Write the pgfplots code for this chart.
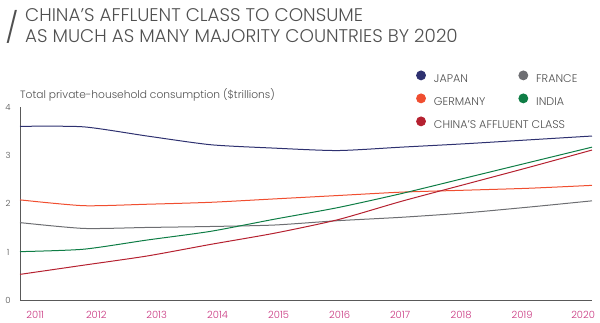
\documentclass[border=0pt]{standalone}
\usepackage{fontspec}
\setmainfont{Poppins}
\IfFontExistsTF{Poppins Light}{\newfontfamily\lightfont{Poppins Light}}{\newcommand\lightfont{}}
\usepackage{pgfplots}
\pgfplotsset{compat=1.18}
\definecolor{japan}{HTML}{2E3170}
\definecolor{germany}{HTML}{F04E30}
\definecolor{france}{HTML}{6D6E72}
\definecolor{india}{HTML}{0E7D45}
\definecolor{china}{HTML}{B52130}
\definecolor{txt}{HTML}{505050}
\definecolor{pinkx}{HTML}{C93680}
\begin{document}
\begin{tikzpicture}
\useasboundingbox (0bp,0bp) rectangle (600bp,323bp);
\node[anchor=base west, text=txt, inner sep=0pt, font=\lightfont\fontsize{18.4}{20}\selectfont] at (25bp,301bp) {CHINA’S AFFLUENT CLASS TO CONSUME};
\node[anchor=base west, text=txt, inner sep=0pt, font=\lightfont\fontsize{18.4}{20}\selectfont] at (25bp,280bp) {AS MUCH AS MANY MAJORITY COUNTRIES BY 2020};
\node[anchor=center, text=txt, inner sep=0pt, font=\lightfont\fontsize{30}{30}\selectfont] at (12bp,296bp) {/};
\node[anchor=base west, text=txt, inner sep=0pt, font=\lightfont\fontsize{10.7}{12}\selectfont] at (20bp,224bp) {Total private-household consumption (\$trillions)};
\begin{axis}[
  at={(20bp,22.5bp)}, anchor=south west,
  scale only axis, width=572bp, height=193.5bp,
  xmin=2011, xmax=2020, ymin=0, ymax=4,
  axis lines=left, axis line style={-, draw=black!65, line width=0.9bp},
  ytick={0,1,2,3,4},
  xtick={2011.24,2012.20,2013.15,2014.11,2015.07,2016.03,2016.98,2017.94,2018.90,2019.86},
  xticklabels={2011,2012,2013,2014,2015,2016,2017,2018,2019,2020},
  major tick length=0pt,
  xticklabel style={text=pinkx, anchor=center, yshift=-14.5bp, font=\lightfont\fontsize{10}{11}\selectfont},
  yticklabel style={text=txt, anchor=center, xshift=-12bp, font=\lightfont\fontsize{8.5}{9}\selectfont},
  /pgf/number format/assume math mode=true,
  clip=false,
  legend columns=2,
  legend cell align=left,
  legend image code/.code={\fill[#1] (0bp,3.8bp) circle (4.4bp);},
  legend style={draw=none, fill=none, at={(0.687,1.2)}, anchor=north west,
    font=\lightfont\fontsize{11.2}{12}\selectfont, text=txt,
    /tikz/every odd column/.append style={column sep=6bp},
    /tikz/every even column/.append style={column sep=31bp}, row sep=7.6bp},
  every axis plot/.append style={line width=1bp, smooth, tension=0.4},
]
\addplot[japan] coordinates {(2011,3.60)(2012,3.59)(2013,3.40)(2014,3.22)(2015,3.15)(2016,3.10)(2017,3.17)(2018,3.24)(2019,3.32)(2020,3.40)};
\addlegendentry{JAPAN}
\addplot[france] coordinates {(2011,1.61)(2012,1.49)(2013,1.51)(2014,1.53)(2015,1.56)(2016,1.65)(2017,1.72)(2018,1.81)(2019,1.93)(2020,2.06)};
\addlegendentry{FRANCE}
\addplot[germany] coordinates {(2011,2.08)(2012,1.96)(2013,1.99)(2014,2.03)(2015,2.10)(2016,2.17)(2017,2.24)(2018,2.28)(2019,2.32)(2020,2.38)};
\addlegendentry{GERMANY}
\addplot[india] coordinates {(2011,1.01)(2012,1.06)(2013,1.25)(2014,1.43)(2015,1.68)(2016,1.92)(2017,2.21)(2018,2.53)(2019,2.85)(2020,3.17)};
\addlegendentry{INDIA}
\addplot[china] coordinates {(2011,0.54)(2012,0.73)(2013,0.92)(2014,1.16)(2015,1.39)(2016,1.67)(2017,2.05)(2018,2.40)(2019,2.75)(2020,3.11)};
\addlegendentry{\makebox[0pt][l]{CHINA’S AFFLUENT CLASS}}
\end{axis}
\end{tikzpicture}
\end{document}
